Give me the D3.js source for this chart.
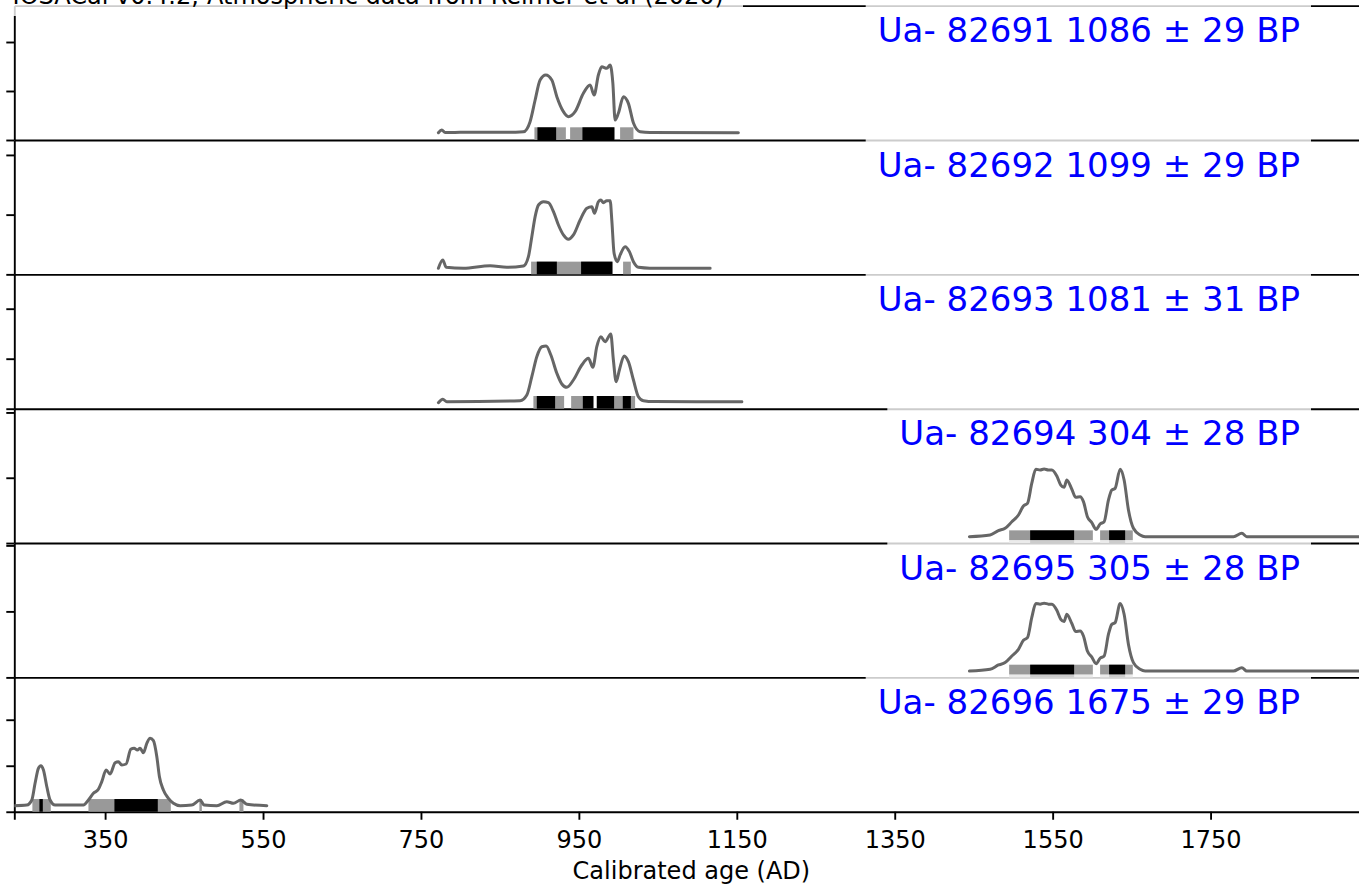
<!DOCTYPE html>
<html><head><meta charset="utf-8">
<script src="https://cdn.jsdelivr.net/npm/d3@7/dist/d3.min.js"></script>
<style>html,body{margin:0;padding:0;background:#fff;overflow:hidden}svg{display:block;font-family:"DejaVu Sans",sans-serif}</style>
</head><body><svg id="c" width="1359" height="885"></svg>
<script>
// ---------------- data ----------------
const titleText = "IOSACal v0.4.2; Atmospheric data from Reimer et al (2020)";
const xLabel = "Calibrated age (AD)";
const xDomain = [235, 1950];
const xTicks = [350, 550, 750, 950, 1150, 1350, 1550, 1750];
const yTicks = [0, 5, 10];               // probability density ×1e-3
const labels = ["Ua- 82691 1086 ± 29 BP", "Ua- 82692 1099 ± 29 BP", "Ua- 82693 1081 ± 31 BP",
                "Ua- 82694 304 ± 28 BP", "Ua- 82695 305 ± 28 BP", "Ua- 82696 1675 ± 29 BP"];
const yMax = [13.71, 11.25, 13.435, 10.287, 10.178, 14.60];

const curve82691 = [[772.1,0.74],[776.4,1.02],[780.6,0.77],[799.6,0.78],[870,0.80],[879.8,0.84],[888.2,1.87],[894.6,4.08],[900.9,6.12],[908.1,6.63],[915.7,6.12],[922.1,4.42],[930.4,2.89],[936.7,2.38],[945.2,2.89],[955.7,4.76],[964.2,5.61],[969.3,4.59],[974.7,6.63],[979.0,7.48],[985.4,7.31],[989.6,7.65],[993.0,5.82],[995.9,2.04],[1000.1,2.75],[1006.4,4.42],[1012.7,3.74],[1019.1,1.73],[1027.6,0.84],[1040,0.76],[1152.0,0.74]];
const curve82692 = [[772.1,0.51],[777.7,1.20],[781.9,0.59],[803.8,0.51],[837.6,0.72],[858.7,0.59],[879.8,0.70],[886.1,1.48],[890.4,3.15],[894.6,4.83],[898.8,5.81],[905.1,6.08],[911.4,6.00],[917.8,5.25],[924.1,4.13],[930.4,3.30],[936.7,2.94],[943.1,3.30],[951.6,4.55],[960.1,5.53],[966.4,5.67],[969.7,5.11],[974.7,6.08],[977.8,6.23],[981.1,6.00],[985.4,6.17],[989.6,6.17],[991.7,4.55],[994.6,1.76],[998.8,1.06],[1002.2,1.62],[1008.6,2.32],[1014.0,1.90],[1019.1,1.06],[1025.4,0.59],[1040,0.52],[1116.2,0.51]];
const curve82693 = [[772.1,0.60],[777.7,0.94],[782.7,0.70],[875.6,0.80],[884.1,1.37],[890.4,3.20],[896.7,5.20],[903.1,6.20],[908.5,6.27],[914.5,5.37],[922.1,3.54],[928.4,2.47],[934.7,2.14],[943.1,2.87],[953.7,4.37],[962.1,5.04],[967.7,4.14],[972.7,6.20],[977.8,7.20],[983.2,6.70],[990.4,7.47],[993.7,4.87],[997.2,2.70],[1001.3,3.87],[1007.3,5.27],[1012.7,4.70],[1019.1,2.87],[1025.4,1.20],[1031.7,0.80],[1045,0.71],[1156.4,0.70]];
const curve82694 = [[1444.6,0.49],[1470.8,0.62],[1481.3,0.95],[1489.8,1.13],[1498.3,1.63],[1506.7,2.15],[1513.0,2.84],[1518.1,3.04],[1523.6,4.58],[1528.7,5.65],[1534.1,5.59],[1539.2,5.67],[1544.6,5.59],[1549.0,5.59],[1555.3,5.13],[1560.3,4.44],[1564.5,4.27],[1567.9,4.83],[1574.3,4.12],[1579.3,3.50],[1584.8,3.55],[1589.0,3.17],[1594.0,2.02],[1599.6,1.56],[1605.1,1.05],[1610.1,1.46],[1615.2,1.63],[1620.7,3.30],[1624.9,4.06],[1629.1,4.19],[1635.5,5.65],[1640.5,4.83],[1646.0,2.53],[1652.3,1.13],[1660.8,0.62],[1667.1,0.49],[1779.0,0.49],[1789.6,0.75],[1795.9,0.49],[1950,0.49]];
const curve82695 = [[1444.6,0.48],[1470.8,0.61],[1481.3,0.94],[1489.8,1.12],[1498.3,1.62],[1506.7,2.13],[1513.0,2.81],[1518.1,3.01],[1523.6,4.54],[1528.7,5.60],[1534.1,5.55],[1539.2,5.62],[1544.6,5.55],[1549.0,5.54],[1555.3,5.08],[1560.3,4.40],[1564.5,4.23],[1567.9,4.78],[1574.3,4.08],[1579.3,3.47],[1584.8,3.52],[1589.0,3.14],[1594.0,2.00],[1599.6,1.54],[1605.1,1.04],[1610.1,1.45],[1615.2,1.62],[1620.7,3.27],[1624.9,4.02],[1629.1,4.15],[1635.5,5.60],[1640.5,4.78],[1646.0,2.50],[1652.3,1.12],[1660.8,0.61],[1667.1,0.48],[1779.0,0.48],[1789.6,0.74],[1795.9,0.48],[1950,0.48]];
const curve82696 = [[235.0,0.66],[250.8,0.73],[257.2,1.28],[261.3,3.09],[265.5,4.72],[268.6,5.01],[271.9,4.54],[276.2,2.72],[280.3,1.28],[286.7,0.73],[322.5,0.73],[328.9,1.28],[335.2,2.01],[341.5,2.44],[345.8,3.27],[351.3,4.54],[356.3,4.10],[362.7,5.33],[366.8,5.44],[371.1,5.08],[376.6,5.19],[382.5,6.79],[386.7,6.90],[390.9,6.71],[394.3,6.90],[398.5,6.42],[402.8,7.44],[407.0,7.98],[411.2,7.72],[415.5,5.98],[418.8,3.81],[423.8,2.36],[430.2,1.46],[436.5,0.92],[445.0,0.66],[459.8,0.73],[470.3,1.28],[475.4,0.73],[491.5,0.66],[504.1,1.09],[512.5,0.92],[521.9,1.28],[529.5,0.81],[554.8,0.66]];
const curves = [curve82691, curve82692, curve82693, curve82694, curve82695, curve82696];

// HPD intervals (years AD): 2 sigma (95.4%) and 1 sigma (68.2%)
const hpd2 = [
  [[893.7,933.5],[938.9,995.0],[1002.2,1019.1]],
  [[889.5,992.5],[1006.0,1015.8]],
  [[892.4,931.3],[940.2,968.4],[972.7,1021.2]],
  [[1494.9,1600.9],[1610.1,1651.5]],
  [[1494.9,1600.9],[1610.1,1651.5]],
  [[257.9,281.2],[328.9,433.2],[469.4,472.5],[520.1,525.2]]
];
const hpd1 = [
  [[897.5,921.2],[954.5,995.0]],
  [[896.7,922.1],[952.8,992.5]],
  [[896.7,919.9],[955.0,968.4],[972.7,994.6],[1005.6,1015.8]],
  [[1521.5,1577.2],[1621.5,1641.8]],
  [[1521.5,1577.2],[1621.5,1641.8]],
  [[266.8,271.1],[361.8,416.7]]
];

// ---------------- layout ----------------
const W = 1359, H = 885;
const L = 14.3, R = 1368.5, T = 5.65, PH = 134.35;
const SPINE = 1.9, BAR_H = 12.7;
const svg = d3.select('#c');
const x = d3.scaleLinear().domain(xDomain).range([L, R]);

svg.append('defs').append('clipPath').attr('id', 'clip')
  .append('rect').attr('x', L).attr('y', 0).attr('width', R - L).attr('height', H);

function styleAxis(g) {
  g.selectAll('path.domain').attr('stroke', '#000').attr('stroke-width', SPINE);
  g.selectAll('.tick line').attr('stroke', '#000').attr('stroke-width', SPINE);
  g.selectAll('.tick text').attr('fill', '#000').attr('font-size', '24px')
    .attr('font-family', '"DejaVu Sans", sans-serif');
}

// spine of the (cropped) panel above
svg.append('g').attr('transform', `translate(0,${T})`)
  .call(d3.axisBottom(x).tickValues([]).tickSizeOuter(0)).call(styleAxis);

const line = d3.line().curve(d3.curveMonotoneX);

curves.forEach((data, i) => {
  const top = T + PH * i, bottom = top + PH;
  const y = d3.scaleLinear().domain([0, yMax[i]]).range([bottom, top]);
  const g = svg.append('g');

  // label box (covers the spine of the panel above) + label
  const lab = g.append('text').attr('x', 1300).attr('y', top + 36.65)
    .attr('text-anchor', 'end').attr('font-size', '34px').attr('fill', '#0000ff')
    .text(labels[i]);
  const w = lab.node().getComputedTextLength();
  g.insert('rect', 'text').attr('x', 1300 - w - 12).attr('y', top - 3)
    .attr('width', w + 23).attr('height', 50).attr('fill', '#fff').attr('fill-opacity', 0.8);

  // left axis
  g.append('g').attr('transform', `translate(${L},0)`)
    .call(d3.axisLeft(y).tickValues(yTicks.filter(t => t <= yMax[i])).tickSize(8).tickSizeOuter(0).tickFormat(''))
    .call(styleAxis);

  // bottom axis
  const last = i === curves.length - 1;
  const xa = d3.axisBottom(x).tickSizeOuter(0);
  if (last) xa.tickValues(xTicks).tickSize(8).tickPadding(11.5).tickFormat(d3.format('d'));
  else xa.tickValues([]);
  g.append('g').attr('transform', `translate(0,${bottom})`).call(xa).call(styleAxis);

  const pg = g.append('g').attr('clip-path', 'url(#clip)');
  // HPD bars
  pg.selectAll('rect.s2').data(hpd2[i]).join('rect').attr('class', 's2')
    .attr('x', d => x(d[0])).attr('width', d => x(d[1]) - x(d[0]))
    .attr('y', bottom - BAR_H).attr('height', BAR_H).attr('fill', '#999999');
  pg.selectAll('rect.s1').data(hpd1[i]).join('rect').attr('class', 's1')
    .attr('x', d => x(d[0])).attr('width', d => x(d[1]) - x(d[0]))
    .attr('y', bottom - BAR_H).attr('height', BAR_H).attr('fill', '#000000');
  // probability curve
  pg.append('path').datum(data)
    .attr('d', line.x(d => x(d[0])).y(d => y(d[1])))
    .attr('fill', 'none').attr('stroke', '#666666').attr('stroke-width', 3)
    .attr('stroke-linejoin', 'round').attr('stroke-linecap', 'round');
});

// x label
svg.append('text').attr('x', (L + R) / 2).attr('y', 879).attr('text-anchor', 'middle')
  .attr('font-size', '24px').attr('fill', '#000').text(xLabel);

// title (cropped at the top of the picture, as in the reference)
svg.append('rect').attr('x', 6).attr('y', -30).attr('width', 737).attr('height', 46)
  .attr('fill', '#fff').attr('fill-opacity', 0.8);
svg.append('text').attr('x', 12.6).attr('y', 3.5).attr('font-size', '24px').attr('fill', '#000')
  .text(titleText);
</script>
</body></html>
